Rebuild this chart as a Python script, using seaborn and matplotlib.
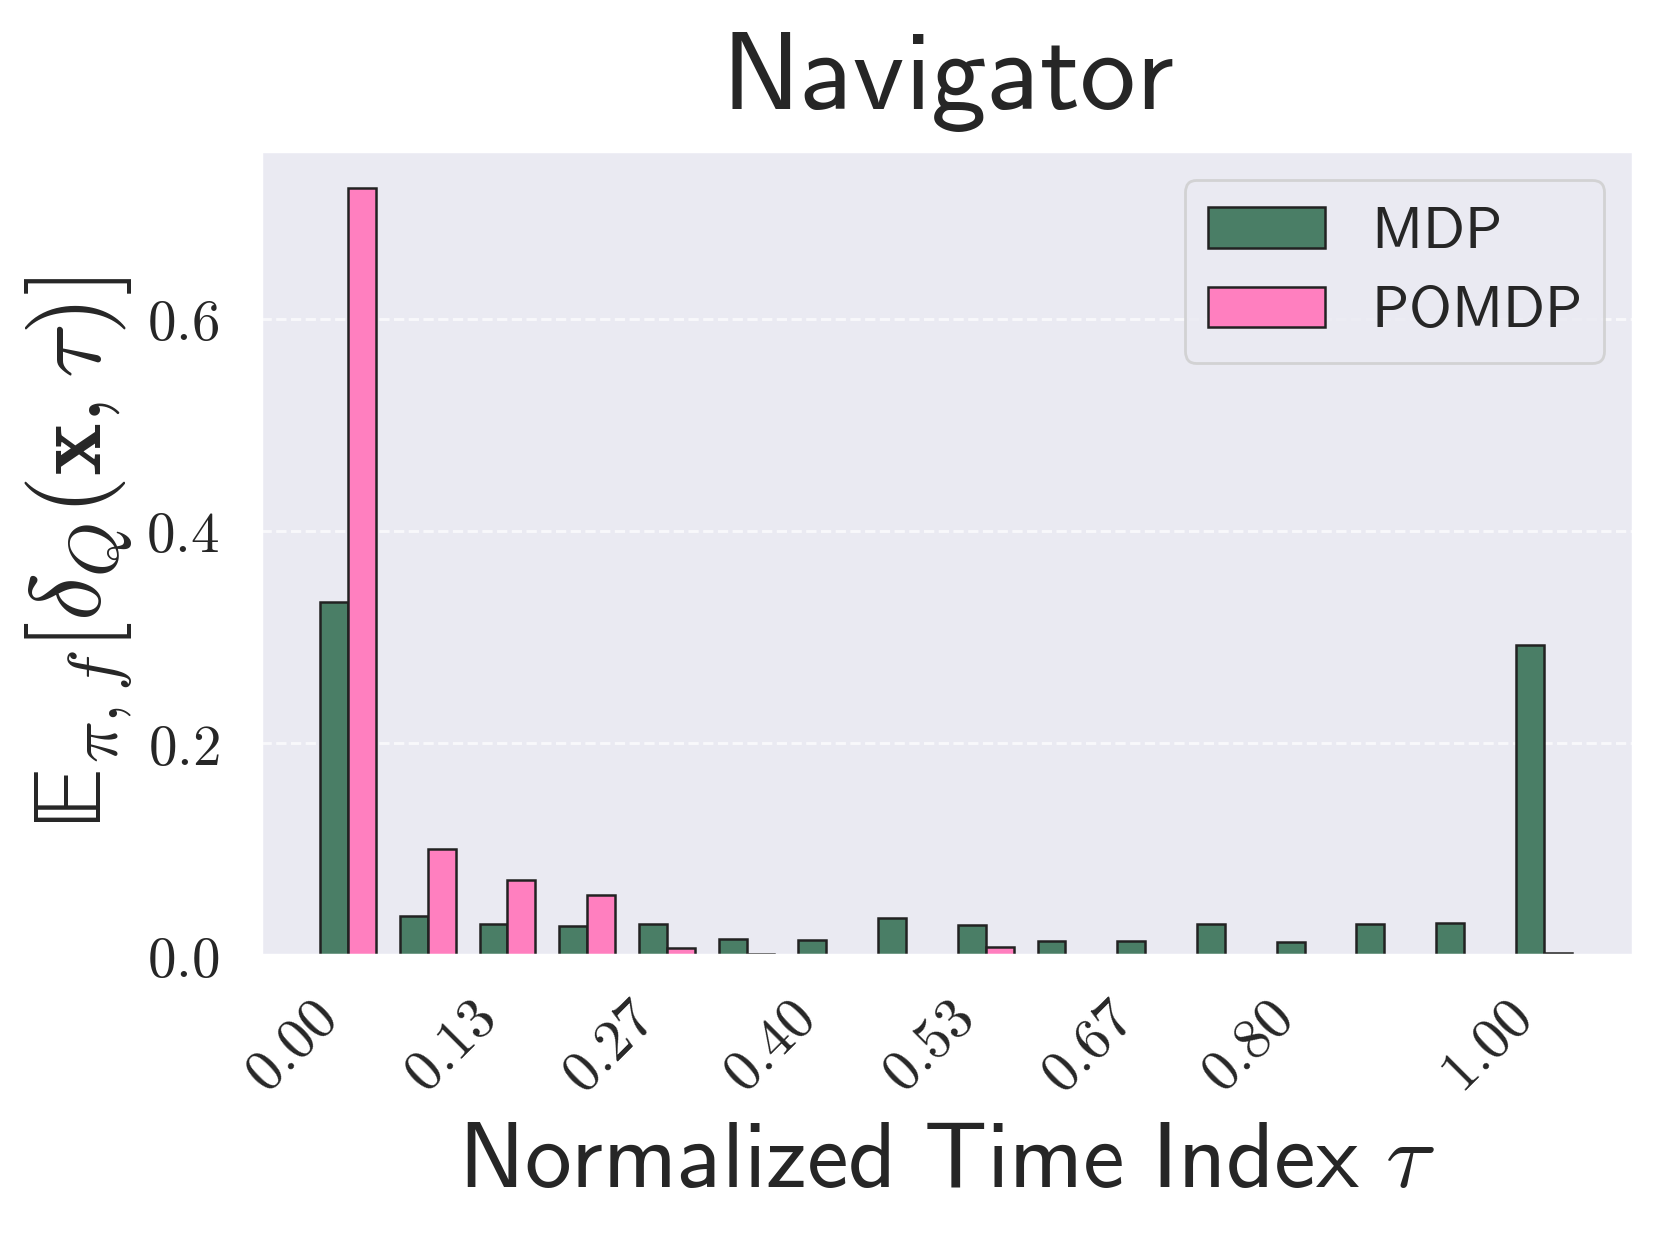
import numpy as np
import pandas as pd
import matplotlib
matplotlib.use("Agg")
import matplotlib.pyplot as plt
import seaborn as sns

# expected Q-discrepancy per normalized time bin
bins = list(range(16))
mdp = [0.333, 0.037, 0.030, 0.028, 0.030, 0.0155, 0.0145, 0.0356,
       0.0283, 0.014, 0.0133, 0.0295, 0.013, 0.030, 0.0308, 0.2925]
pomdp = [0.723, 0.1007, 0.0711, 0.0568, 0.0072, 0.001, 0.0006, 0.0006,
         0.0079, 0.0004, 0.0006, 0.0004, 0.0004, 0.0004, 0.0006, 0.0025]
tick_pos = [0, 2, 4, 6, 8, 10, 12, 15]
tick_labels = ["0.00", "0.13", "0.27", "0.40", "0.53", "0.67", "0.80", "1.00"]
y_ticks = [0.0, 0.2, 0.4, 0.6]
colors = {"MDP": "#4a7e66", "POMDP": "#ff7fbf"}

df = pd.DataFrame({
    "bin": bins * 2,
    "value": mdp + pomdp,
    "method": ["MDP"] * len(bins) + ["POMDP"] * len(bins),
})

sns.set_theme(style="darkgrid")
plt.rcParams["mathtext.fontset"] = "cm"

fig, ax = plt.subplots(figsize=(8.315, 6.18), dpi=200)
fig.subplots_adjust(left=0.157, right=0.982, top=0.878, bottom=0.227)

sns.barplot(data=df, x="bin", y="value", hue="method", palette=colors,
            width=0.7, gap=0, edgecolor="#222222", linewidth=0.9,
            saturation=1, ax=ax)

ax.set_xlim(-1.09, 16.12)
ax.set_ylim(0, 0.758)
ax.set_xticks(tick_pos)
ax.set_xticklabels(["$" + t + "$" for t in tick_labels], rotation=45,
                   ha="right", fontsize=21)
ax.tick_params(axis="x", pad=6.5)
ax.set_yticks(y_ticks)
ax.set_yticklabels(["$%.1f$" % t for t in y_ticks], fontsize=20.5)
ax.tick_params(axis="y", pad=9)
ax.yaxis.grid(True, linestyle="--", alpha=0.7)

ax.set_title(r"$\mathsf{Navigator}$", fontsize=40, pad=15)
ax.set_xlabel(r"$\mathsf{Normalized\ Time\ Index}\ \tau$", fontsize=33.6)
ax.set_ylabel(r"$\mathrm{\mathbb{E}}_{\pi,f}\left[\delta_Q(\mathbf{x},\tau)\right]$",
              fontsize=36)

handles, labels = ax.get_legend_handles_labels()
ax.legend(handles, [r"$\mathsf{" + l + "}$" for l in labels],
          loc="upper right", fontsize=21, labelspacing=0.38, title=None)

fig.savefig("out.png", dpi=200)
